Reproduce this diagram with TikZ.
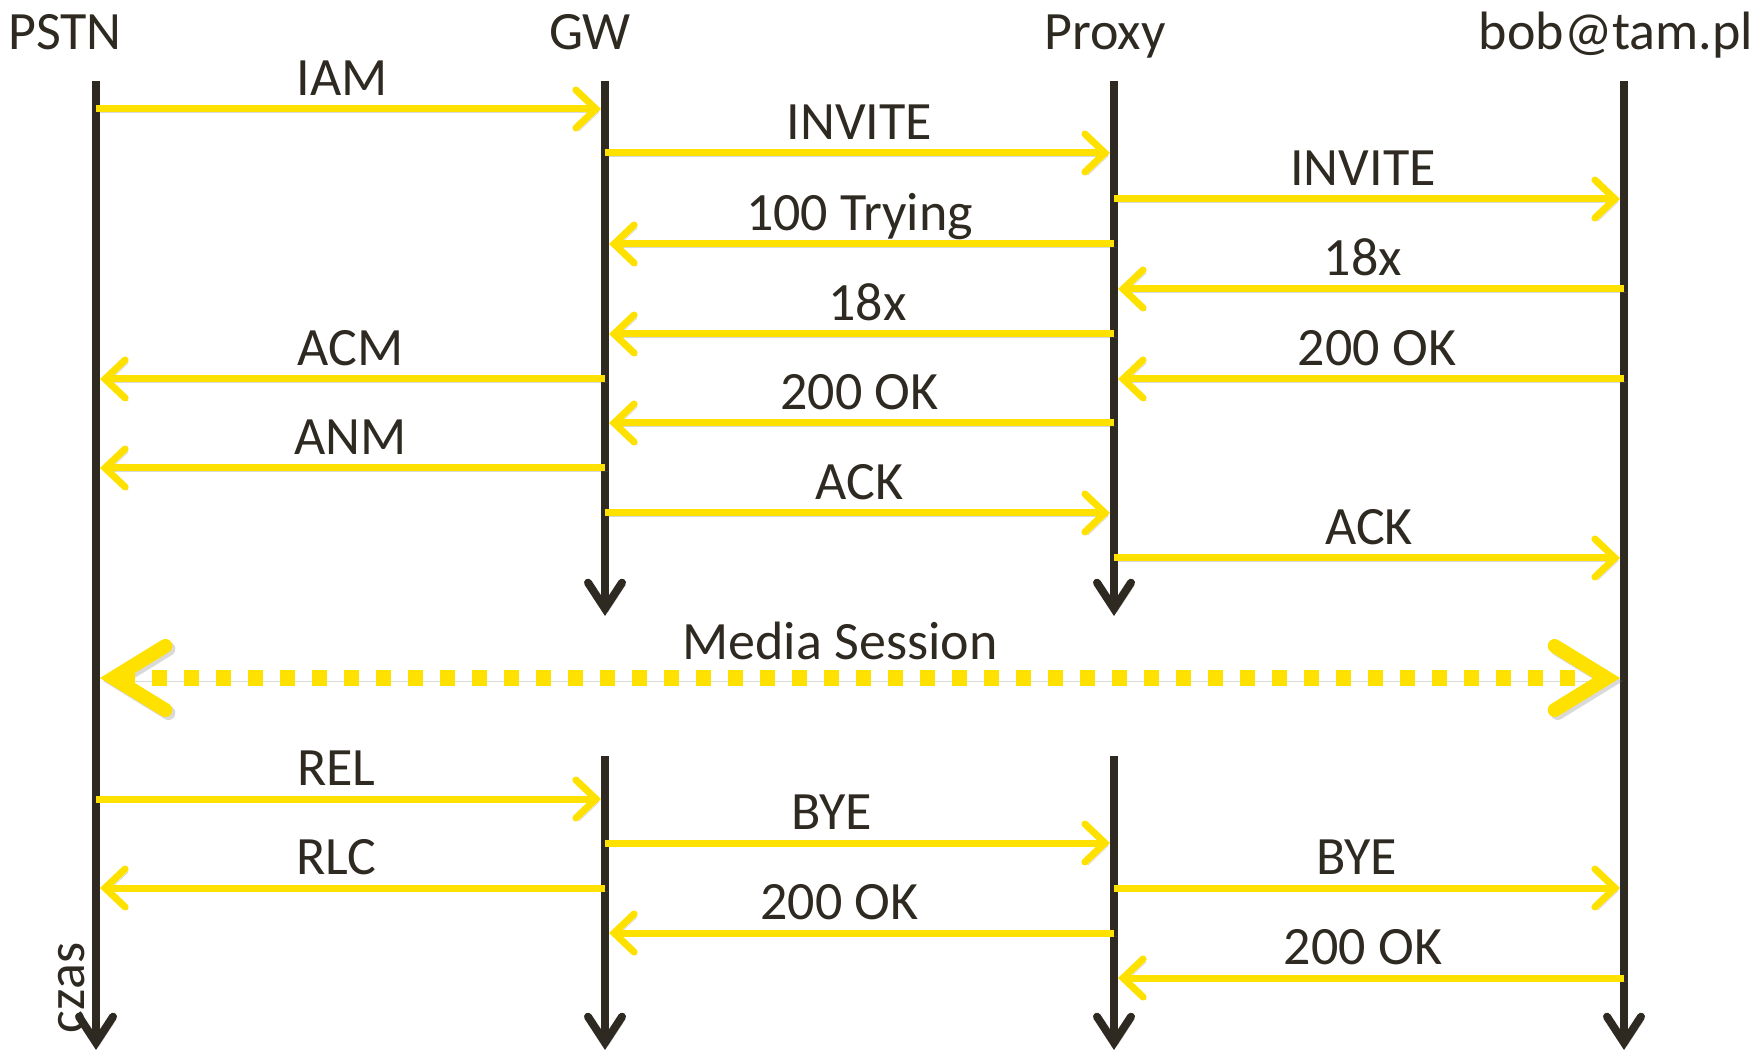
\documentclass[tikz,border=0pt]{standalone}
\usepackage{fontspec}
\setmainfont{Carlito}
\usetikzlibrary{arrows.meta, positioning}
\definecolor{sigyellow}{HTML}{FFE100}
\definecolor{linedark}{HTML}{2E2A22}

\begin{document}
\begin{tikzpicture}[x=0.5pt, y=-0.5pt,
  every node/.style={font=\fontsize{27}{31}\selectfont, text=linedark},
  shadowed/.style={preaction={draw=black!60, opacity=0.25, transform canvas={shift={(1.5pt,-1.5pt)}}}},
  lifeline/.style={draw=linedark, line width=4pt, shadowed,
    -{Straight Barb[length=13pt, width=17pt, line cap=round]}},
  msg/.style={draw=sigyellow, line width=3.5pt, shadowed, shorten >=2pt,
    -{Straight Barb[length=10pt, width=19pt, line cap=round]}},
  msglabel/.style={above=5pt, inner sep=0pt, text depth=0pt},
  media/.style={draw=sigyellow, line width=8pt, shadowed, shorten >=2pt, shorten <=2pt,
    dash pattern=on 7.5pt off 8.5pt,
    {Straight Barb[length=26pt, width=32pt, line width=7pt, line cap=round]}-{Straight Barb[length=26pt, width=32pt, line width=7pt, line cap=round]}}]

  \useasboundingbox (0,0) rectangle (1756,1052);

  % headings
  \node[anchor=base] (pstn) at (65,50) {PSTN};
  \node[anchor=base] (gw) at (590,50) {GW};
  \node[anchor=base] (proxy) at (1105,50) {Proxy};
  \node[anchor=base] (bob) at (1616,50) {bob@tam.pl};

  % lifelines
  \coordinate (pstn top) at (96,81);
  \coordinate (pstn end) at (96,1050);
  \coordinate (gw top) at (605,81);
  \coordinate (gw end) at (605,616);
  \coordinate (gw top2) at (605,756);
  \coordinate (gw end2) at (605,1050);
  \coordinate (proxy top) at (1114,81);
  \coordinate (proxy end) at (1114,616);
  \coordinate (proxy top2) at (1114,756);
  \coordinate (proxy end2) at (1114,1050);
  \coordinate (bob top) at (1624,81);
  \coordinate (bob end) at (1624,1050);

  \draw[lifeline] (pstn top) -- (pstn end);
  \draw[lifeline] (gw top) -- (gw end);
  \draw[lifeline] (gw top2) -- (gw end2);
  \draw[lifeline] (proxy top) -- (proxy end);
  \draw[lifeline] (proxy top2) -- (proxy end2);
  \draw[lifeline] (bob top) -- (bob end);

  \node[rotate=90, anchor=base] (czas) at (84,988) {czas};

  % call setup
  \draw[msg] (pstn top |- 0,109) -- node[msglabel, xshift=-4pt] {IAM} (gw top |- 0,109);
  \draw[msg] (gw top |- 0,153) -- node[msglabel] {INVITE} (proxy top |- 0,153);
  \draw[msg] (proxy top |- 0,199) -- node[msglabel, xshift=-3pt] {INVITE} (bob top |- 0,199);
  \draw[msg] (proxy top |- 0,244) -- node[msglabel] {100 Trying} (gw top |- 0,244);
  \draw[msg] (bob top |- 0,289) -- node[msglabel, xshift=-3pt] {18x} (proxy top |- 0,289);
  \draw[msg] (proxy top |- 0,334) -- node[msglabel, xshift=4pt] {18x} (gw top |- 0,334);
  \draw[msg] (gw top |- 0,379) -- node[msglabel] {ACM} (pstn top |- 0,379);
  \draw[msg] (bob top |- 0,379) -- node[msglabel, xshift=4pt] {200 OK} (proxy top |- 0,379);
  \draw[msg] (proxy top |- 0,423) -- node[msglabel] {200 OK} (gw top |- 0,423);
  \draw[msg] (gw top |- 0,468) -- node[msglabel] {ANM} (pstn top |- 0,468);
  \draw[msg] (gw top |- 0,513) -- node[msglabel] {ACK} (proxy top |- 0,513);
  \draw[msg] (proxy top |- 0,558) -- node[msglabel] {ACK} (bob top |- 0,558);

  % media
  \draw[media] (pstn top |- 0,678) -- node[msglabel, xshift=-10pt] {Media Session} (bob top |- 0,678);

  % teardown
  \draw[msg] (pstn top |- 0,799) -- node[msglabel, xshift=-7pt] {REL} (gw top2 |- 0,799);
  \draw[msg] (gw top2 |- 0,843) -- node[msglabel, xshift=-14pt] {BYE} (proxy top2 |- 0,843);
  \draw[msg] (gw top2 |- 0,888) -- node[msglabel, xshift=-7pt] {RLC} (pstn top |- 0,888);
  \draw[msg] (proxy top2 |- 0,888) -- node[msglabel, xshift=-6pt] {BYE} (bob top |- 0,888);
  \draw[msg] (proxy top2 |- 0,933) -- node[msglabel, xshift=-10pt] {200 OK} (gw top2 |- 0,933);
  \draw[msg] (bob top |- 0,978) -- node[msglabel, xshift=-3pt] {200 OK} (proxy top2 |- 0,978);
\end{tikzpicture}
\end{document}
